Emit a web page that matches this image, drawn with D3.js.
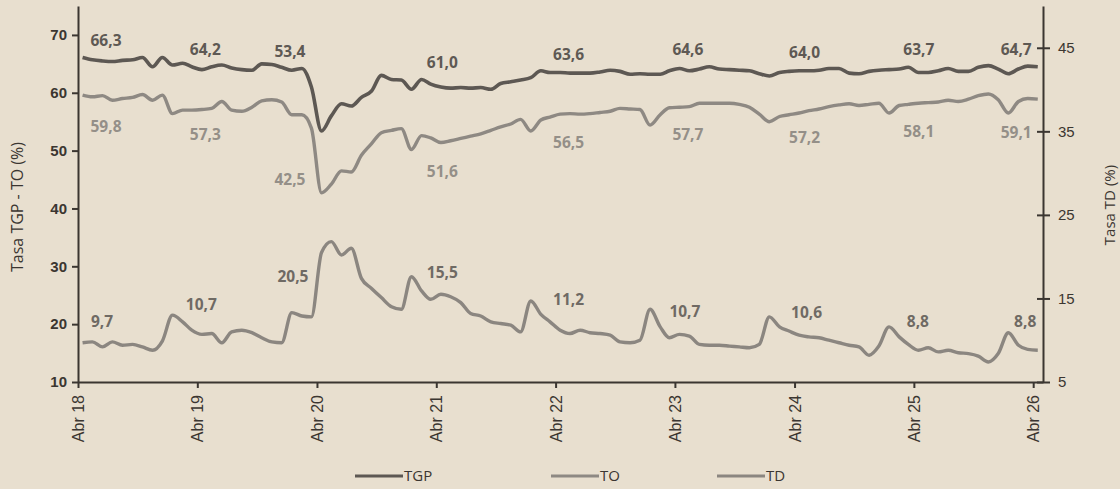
<!DOCTYPE html>
<html>
<head>
<meta charset="utf-8">
<script src="https://cdn.jsdelivr.net/npm/d3@7"></script>
<style>
  html, body { margin: 0; padding: 0; background: #e8dfcf; }
  svg { display: block; font-family: "Open Sans", "Noto Sans", sans-serif; }
</style>
</head>
<body>
<script>
// monthly series, Abr 2018 .. Abr 2026
const tgp = [66.1,65.7,65.5,65.4,65.6,65.7,66.1,64.5,66.1,64.8,65.1,64.5,
  64.0,64.5,64.8,64.3,64.0,63.9,65.0,64.9,64.4,63.9,64.2,61.0,
  53.4,56.0,58.1,57.7,59.2,60.3,63.0,62.3,62.2,60.6,62.3,61.5,
  61.0,60.8,60.9,60.8,60.9,60.6,61.6,61.9,62.2,62.6,63.8,63.5,
  63.5,63.4,63.4,63.4,63.6,63.9,63.7,63.2,63.3,63.2,63.2,63.8,
  64.2,63.8,64.1,64.5,64.1,64.0,63.9,63.8,63.3,62.9,63.5,63.7,
  63.8,63.8,63.9,64.2,64.2,63.4,63.3,63.7,63.9,64.0,64.1,64.4,
  63.5,63.5,63.8,64.2,63.7,63.7,64.4,64.7,64.1,63.3,64.1,64.6,
  64.5];
const to = [59.6,59.3,59.5,58.7,59.0,59.2,59.7,58.7,59.6,56.4,57.0,57.0,
  57.1,57.3,58.5,57.0,56.8,57.5,58.6,58.8,58.4,56.2,56.2,53.9,
  42.7,44.2,46.5,46.3,49.2,51.2,53.1,53.5,53.8,50.2,52.6,52.2,
  51.4,51.7,52.1,52.5,52.9,53.5,54.1,54.6,55.4,53.4,55.3,55.8,
  56.3,56.4,56.3,56.4,56.6,56.8,57.3,57.2,57.1,54.4,56.2,57.4,
  57.5,57.6,58.2,58.2,58.2,58.2,58.0,57.5,56.3,55.0,55.9,56.2,
  56.5,56.9,57.2,57.6,57.9,58.1,57.8,58.0,58.2,56.5,57.8,58.0,
  58.2,58.3,58.4,58.7,58.5,58.9,59.5,59.8,58.8,56.5,58.5,59.0,
  58.9];
const td = [9.7,9.8,9.2,9.8,9.4,9.5,9.2,8.8,9.9,13.0,12.2,11.2,
  10.7,10.8,9.7,11.0,11.2,10.9,10.3,9.8,9.7,13.3,12.9,12.8,
  20.5,21.8,20.2,21.0,17.4,16.2,15.1,14.0,13.7,17.6,15.9,14.9,
  15.5,15.2,14.5,13.2,12.9,12.2,12.0,11.8,11.0,14.7,13.1,12.2,
  11.2,10.8,11.2,10.9,10.8,10.6,9.8,9.7,10.0,13.7,11.6,10.3,
  10.7,10.5,9.5,9.4,9.4,9.3,9.2,9.1,9.5,12.8,11.6,11.1,
  10.6,10.4,10.3,10.0,9.7,9.4,9.2,8.2,9.3,11.6,10.4,9.5,
  8.8,9.1,8.6,8.8,8.5,8.4,8.1,7.4,8.4,10.9,9.4,8.9,
  8.8];

// April values printed on the chart
const labelYears = [2018,2019,2020,2021,2022,2023,2024,2025,2026];
const tgpLabels = [66.3,64.2,53.4,61.0,63.6,64.6,64.0,63.7,64.7];
const toLabels = [59.8,57.3,42.5,51.6,56.5,57.7,57.2,58.1,59.1];
const tdLabels = [9.7,10.7,20.5,15.5,11.2,10.7,10.6,8.8,8.8];

const leftTicks = [10,20,30,40,50,60,70];
const rightTicks = [5,15,25,35,45];
const seriesNames = ["TGP","TO","TD"];

const W = 1120, H = 489;
const col = { tgp: "#5d5853", to: "#8e8983", td: "#8b8680", axis: "#3b3631",
  tgpLab: "#5e5954", toLab: "#948f88", tdLab: "#6f6a64" };

// label nudges (layout only)
const nudgeX = [28,8,-27,6,13,13,10,5,-17];
const nudgeXtd = [24,4,-24,6,13,10,12,4,-8];
const tgpDy = [-10,-13,-74,-19,-12,-11,-12,-16,-11];
const toDy = [38,32,-9,36,35,34,34,33,40];
const tdDy = [-16,-24,30,-16,-25,-17,-17,-23,-23];

const loc = d3.formatLocale({decimal: ",", thousands: ".", grouping: [3], currency: ["", ""]});
const fmt = loc.format(".1f");

const dates = tgp.map((d, i) => d3.timeMonth.offset(new Date(2018, 3, 15), i));

const svg = d3.select("body").append("svg").attr("width", W).attr("height", H);

const x = d3.scaleTime().domain([new Date(2018, 3, 1), new Date(2026, 4, 1)]).range([78, 1043]);
const yL = d3.scaleLinear().domain([10, 75]).range([382, 6]);
const yR = d3.scaleLinear().domain([5, 50]).range([382, 6]);

// axes
const gx = svg.append("g").attr("transform", "translate(0,382)")
  .call(d3.axisBottom(x)
    .tickValues(labelYears.map(y => new Date(y, 3, 1)))
    .tickFormat(d => "Abr " + String(d.getFullYear()).slice(2))
    .tickSize(6).tickSizeOuter(0));
gx.selectAll("text")
  .attr("transform", "rotate(-90)")
  .attr("text-anchor", "end")
  .attr("x", -13).attr("y", 0).attr("dy", "0.35em")
  .style("font-size", "16px").style("font-weight", 500).attr("fill", col.axis);

const gl = svg.append("g").attr("transform", "translate(78,0)")
  .call(d3.axisLeft(yL).tickValues(leftTicks).tickSize(6).tickSizeOuter(0));
gl.selectAll("text").attr("x", -11)
  .style("font-size", "15px").style("font-weight", 600).attr("fill", col.axis);

const gr = svg.append("g").attr("transform", "translate(1043,0)")
  .call(d3.axisRight(yR).tickValues(rightTicks).tickSize(6).tickSizeOuter(0));
gr.selectAll(".tick line").attr("x1", -6).attr("x2", 7);
gr.selectAll("text").attr("x", 15)
  .style("font-size", "15px").attr("fill", col.axis);

[gx, gl, gr].forEach(g => {
  g.select(".domain").attr("stroke", col.axis).attr("stroke-width", 2);
  g.selectAll(".tick line").attr("stroke", col.axis).attr("stroke-width", 2);
});

svg.append("text")
  .attr("transform", "translate(23,207) rotate(-90)")
  .attr("text-anchor", "middle")
  .style("font-size", "16px").attr("fill", col.axis)
  .text("Tasa TGP - TO (%)");
svg.append("text")
  .attr("transform", "translate(1115,205) rotate(-90)")
  .attr("text-anchor", "middle")
  .style("font-size", "15px").attr("fill", col.axis)
  .text("Tasa TD (%)");

// lines
const lineL = d3.line().x((d, i) => x(dates[i])).y(d => yL(d)).curve(d3.curveMonotoneX);
const lineR = d3.line().x((d, i) => x(dates[i])).y(d => yR(d)).curve(d3.curveMonotoneX);

svg.append("path").datum(td).attr("d", lineR)
  .attr("fill", "none").attr("stroke", col.td).attr("stroke-width", 3.4).attr("stroke-linejoin", "round");
svg.append("path").datum(to).attr("d", lineL)
  .attr("fill", "none").attr("stroke", col.to).attr("stroke-width", 3.4).attr("stroke-linejoin", "round");
svg.append("path").datum(tgp).attr("d", lineL)
  .attr("fill", "none").attr("stroke", col.tgp).attr("stroke-width", 3.6).attr("stroke-linejoin", "round");

// value labels
function labels(vals, scale, dxs, dys, color) {
  svg.append("g").selectAll("text")
    .data(vals)
    .enter()
    .append("text")
      .attr("x", (d, i) => x(new Date(labelYears[i], 3, 1)) + dxs[i])
      .attr("y", (d, i) => scale(d) + dys[i])
      .attr("text-anchor", "middle")
      .style("font-size", "15.5px").style("font-weight", 700)
      .attr("fill", color)
      .text(d => fmt(d));
}
labels(tgpLabels, yL, nudgeX, tgpDy, col.tgpLab);
labels(toLabels, yL, nudgeX, toDy, col.toLab);
labels(tdLabels, yR, nudgeXtd, tdDy, col.tdLab);

// legend
const legX = [355, 551, 717];
const legCol = [col.tgp, col.to, col.td];
const leg = svg.append("g").selectAll("g")
  .data(seriesNames)
  .enter()
  .append("g")
    .attr("transform", (d, i) => "translate(" + legX[i] + ",476)");
leg.append("line").attr("x1", 0).attr("x2", 48)
  .attr("stroke", (d, i) => legCol[i]).attr("stroke-width", 3);
leg.append("text").attr("x", 49).attr("dy", "0.35em")
  .style("font-size", "15px").attr("fill", col.axis)
  .text(d => d);
</script>
</body>
</html>
